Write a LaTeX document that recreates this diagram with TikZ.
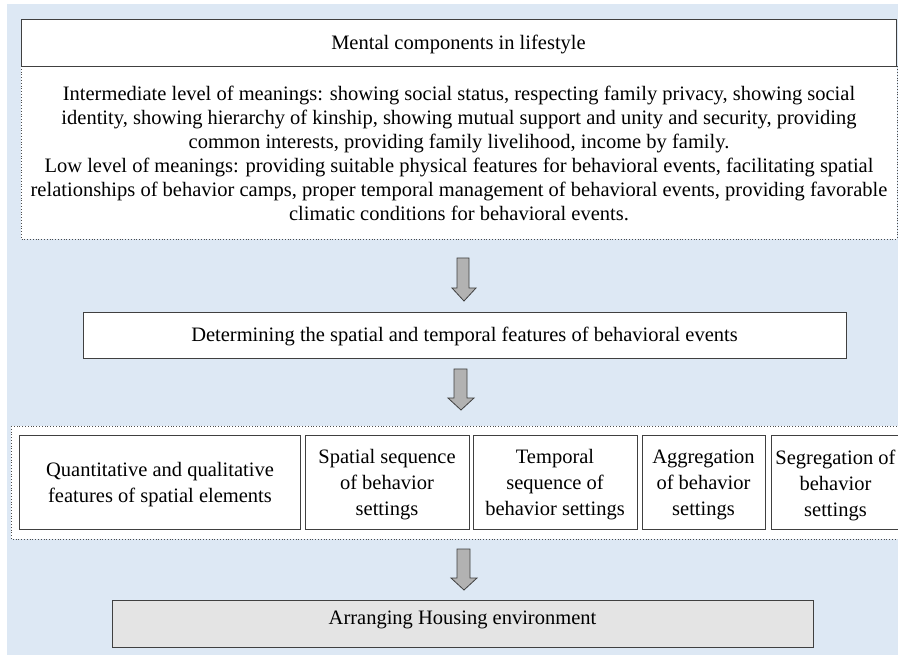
\documentclass[tikz,border=0pt]{standalone}
\usepackage{fontspec}
\setmainfont{Liberation Serif}
\begin{document}
\begin{tikzpicture}[x=1pt,y=-1pt,
  box/.style={draw=black!75, line width=1.1pt, fill=white, inner sep=0pt, align=center},
  dotbox/.style={draw=black!70, line width=0.8pt, dotted, fill=white},
  barrow/.style={draw=black!75, line width=0.8pt, fill=black!30},
  txt/.style={font=\fontsize{20.5}{24}\selectfont, align=center, inner sep=0pt},
  rtxt/.style={font=\fontsize{20.5}{26}\selectfont, align=center, inner sep=0pt}]
\useasboundingbox (0,0) rectangle (898,655);
\fill[white] (0,0) rectangle (898,655);
\fill[fill={rgb,255:red,221;green,232;blue,244}] (7,4) rectangle (898,655);
% top block
\draw[dotbox] (21,66) rectangle (897,239);
\node[box, minimum width=875pt, minimum height=47pt, anchor=north west] (title) at (21,19) {};
\node[txt] (titletxt) at (458.5,44) {Mental components in lifestyle};
\node[txt] (meanings) at (459,153) {Intermediate level of meanings: showing social status, respecting family privacy, showing social\\
identity, showing hierarchy of kinship, showing mutual support and unity and security, providing\\
common interests, providing family livelihood, income by family.\\
Low level of meanings: providing suitable physical features for behavioral events, facilitating spatial\\
relationships of behavior camps, proper temporal management of behavioral events, providing favorable\\
climatic conditions for behavioral events.};
% arrow 1
\draw[barrow] (457,258) -- (469,258) -- (469,288) -- (476,288) -- (464,301) -- (452,288) -- (457,288) -- cycle;
% box 2
\node[box, minimum width=763pt, minimum height=46pt, anchor=north west] (det) at (83,312) {};
\node[txt] (dettxt) at (464.5,336) {Determining the spatial and temporal features of behavioral events};
% arrow 2
\draw[barrow] (454,369) -- (467,369) -- (467,398) -- (474,398) -- (461,410) -- (448,398) -- (454,398) -- cycle;
% row container
\draw[dotbox] (11,426) rectangle (905,539);
\node[box, minimum width=281pt, minimum height=94pt, anchor=north west] (q) at (19,435) {};
\node[rtxt] at (160,485) {Quantitative and qualitative\\features of spatial elements};
\node[box, minimum width=164pt, minimum height=94pt, anchor=north west] (s) at (305,435) {};
\node[rtxt] at (387,485) {Spatial sequence\\of behavior\\settings};
\node[box, minimum width=164pt, minimum height=94pt, anchor=north west] (t) at (473,435) {};
\node[rtxt] at (555,485) {Temporal\\sequence of\\behavior settings};
\node[box, minimum width=123pt, minimum height=94pt, anchor=north west] (ag) at (642,435) {};
\node[rtxt] at (703.5,485) {Aggregation\\of behavior\\settings};
\node[box, minimum width=130pt, minimum height=94pt, anchor=north west] (sg) at (771,435) {};
\node[rtxt] at (835.5,485) {Segregation of\\behavior\\settings};
% arrow 3
\draw[barrow] (457,549) -- (470,549) -- (470,578) -- (477,578) -- (464,590) -- (451,578) -- (457,578) -- cycle;
% final box
\node[box, fill={rgb,255:red,228;green,228;blue,228}, minimum width=701pt, minimum height=47pt, anchor=north west] (arr) at (112,600) {};
\node[txt] (arrtxt) at (462.5,620) {Arranging Housing environment};
\end{tikzpicture}
\end{document}
